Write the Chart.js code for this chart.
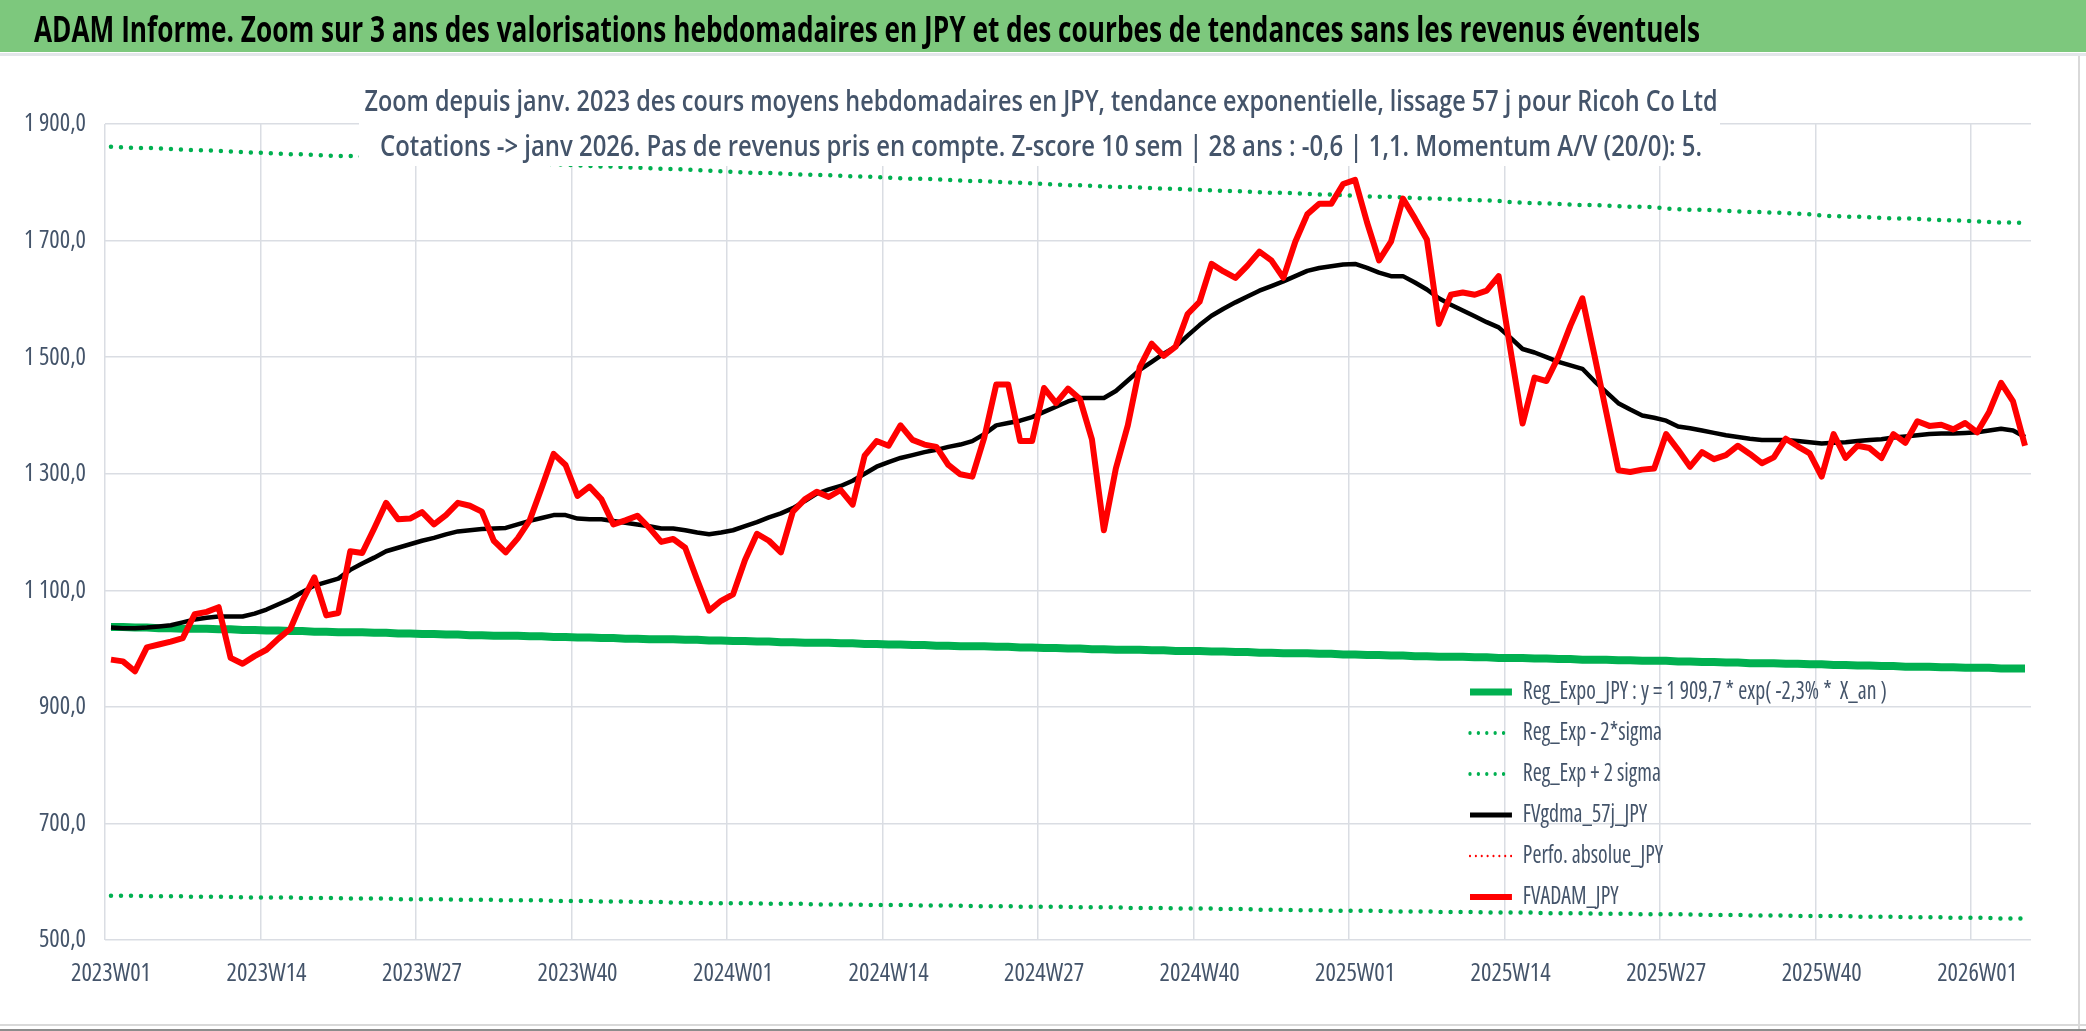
<!DOCTYPE html>
<html lang="fr">
<head>
<meta charset="utf-8">
<title>ADAM Informe - Ricoh Co Ltd (JPY)</title>
<script src="https://cdn.jsdelivr.net/npm/chart.js@4.4.1/dist/chart.umd.min.js"></script>
<style>
  html, body { margin: 0; padding: 0; background: #ffffff; overflow: hidden; }
  #myChart { display: block; }
</style>
</head>
<body>
<canvas id="myChart" width="2086" height="1031" style="width:2086px;height:1031px"></canvas>
<script>
// <block:donnees>

// semaines ISO, 2023W01 -> 2026W05
const annees = [2023, 2024, 2025];
const semaines = [];
for (const a of annees) {
  for (let w = 1; w <= 52; w++) semaines.push(a + "W" + String(w).padStart(2, "0"));
}
for (let w = 1; w <= 5; w++) semaines.push("2026W0" + w);

// étiquettes affichées sur l'axe x
const xTicks = ["2023W01", "2023W14", "2023W27", "2023W40", "2024W01", "2024W14", "2024W27",
  "2024W40", "2025W01", "2025W14", "2025W27", "2025W40", "2026W01"];

// axe y
const yMin = 500;
const yMax = 1900;
const yPas = 200;

// FVADAM_JPY (cours moyens hebdo)
const fvadam = [
  981, 978, 961, 1002, 1007, 1012, 1018, 1059, 1063, 1071, 984, 974, 987,
  998, 1017, 1034, 1082, 1122, 1057, 1061, 1167, 1164, 1206, 1250, 1222, 1223,
  1234, 1213, 1229, 1250, 1245, 1235, 1185, 1165, 1189, 1220, 1276, 1334, 1315,
  1262, 1278, 1256, 1213, 1220, 1228, 1207, 1183, 1188, 1173, 1118, 1065, 1082,
  1093, 1152, 1197, 1185, 1165, 1235, 1256, 1269, 1260, 1272, 1247, 1331, 1356,
  1348, 1383, 1358, 1350, 1346, 1315, 1299, 1295, 1362, 1453, 1453, 1356, 1356,
  1447, 1421, 1446, 1428, 1359, 1203, 1309, 1383, 1483, 1523, 1502, 1518, 1574,
  1595, 1660, 1647, 1636, 1657, 1681, 1666, 1636, 1698, 1745, 1763, 1763, 1797,
  1804, 1731, 1666, 1698, 1772, 1738, 1702, 1557, 1607, 1611, 1607, 1614, 1639,
  1511, 1386, 1465, 1459, 1501, 1554, 1601, 1504, 1405, 1306, 1303, 1307, 1309,
  1368, 1341, 1312, 1337, 1325, 1332, 1348, 1334, 1318, 1328, 1360, 1347, 1335,
  1295, 1368, 1327, 1348, 1344, 1327, 1368, 1353, 1390, 1382, 1384, 1376, 1387,
  1371, 1406, 1456, 1424, 1348
];

// FVgdma_57j_JPY (lissage)
const fvgdma = [
  1036, 1035, 1035, 1036, 1038, 1040, 1045, 1050, 1053, 1055, 1055, 1055, 1060,
  1067, 1076, 1085, 1097, 1108, 1114, 1120, 1135, 1146, 1156, 1167, 1173, 1179,
  1185, 1190, 1196, 1201, 1203, 1205, 1206, 1207, 1213, 1219, 1224, 1229, 1229,
  1223, 1222, 1222, 1219, 1216, 1213, 1210, 1206, 1206, 1203, 1199, 1196, 1199,
  1203, 1210, 1217, 1225, 1232, 1241, 1253, 1266, 1273, 1279, 1288, 1300, 1312,
  1320, 1327, 1332, 1337, 1341, 1346, 1350, 1356, 1368, 1383, 1387, 1391, 1397,
  1406, 1415, 1424, 1430, 1430, 1430, 1442, 1460, 1478, 1492, 1506, 1518, 1537,
  1555, 1571, 1583, 1594, 1604, 1614, 1622, 1630, 1639, 1648, 1653, 1656, 1659,
  1660, 1653, 1645, 1639, 1639, 1628, 1616, 1601, 1590, 1580, 1570, 1560, 1551,
  1533, 1514, 1508, 1500, 1492, 1486, 1480, 1459, 1440, 1421, 1410, 1400, 1396,
  1391, 1381, 1378, 1374, 1370, 1366, 1363, 1360, 1358, 1358, 1358, 1356, 1354,
  1352, 1353, 1354, 1356, 1358, 1359, 1362, 1364, 1366, 1368, 1369, 1369, 1370,
  1371, 1374, 1377, 1374, 1363
];

// Reg_Expo_JPY
const regExpo = [
  1037, 1037, 1036, 1036, 1035, 1035, 1034, 1034, 1034, 1033, 1033, 1032, 1032,
  1031, 1031, 1030, 1030, 1029, 1029, 1028, 1028, 1028, 1027, 1027, 1026, 1026,
  1025, 1025, 1024, 1024, 1023, 1023, 1022, 1022, 1022, 1021, 1021, 1020, 1020,
  1019, 1019, 1018, 1018, 1017, 1017, 1016, 1016, 1016, 1015, 1015, 1014, 1014,
  1013, 1013, 1012, 1012, 1011, 1011, 1010, 1010, 1010, 1009, 1009, 1008, 1008,
  1007, 1007, 1006, 1006, 1005, 1005, 1004, 1004, 1004, 1003, 1003, 1002, 1002,
  1001, 1001, 1000, 1000, 999, 999, 998, 998, 998, 997, 997, 996, 996,
  996, 995, 995, 994, 994, 993, 993, 992, 992, 992, 991, 991, 990,
  990, 989, 989, 988, 988, 987, 987, 986, 986, 986, 985, 985, 984,
  984, 984, 983, 983, 982, 982, 981, 981, 981, 980, 980, 979, 979,
  979, 978, 978, 977, 977, 976, 976, 975, 975, 975, 974, 974, 973,
  973, 972, 972, 971, 971, 970, 970, 969, 969, 969, 968, 968, 967,
  967, 967, 966, 966, 966
];

// Reg_Exp - 2*sigma
const regMoins2Sigma = [
  576, 576, 576, 575, 575, 575, 575, 574, 574, 574, 574, 573, 573,
  573, 573, 573, 572, 572, 572, 572, 571, 571, 571, 571, 570, 570,
  570, 570, 570, 569, 569, 569, 569, 568, 568, 568, 568, 567, 567,
  567, 567, 566, 566, 566, 565, 565, 565, 564, 564, 564, 563, 563,
  563, 563, 563, 562, 562, 562, 562, 561, 561, 561, 561, 560, 560,
  560, 560, 560, 559, 559, 559, 559, 558, 558, 558, 558, 557, 557,
  557, 557, 557, 556, 556, 556, 556, 555, 555, 555, 555, 554, 554,
  554, 554, 553, 553, 553, 552, 552, 552, 551, 551, 551, 550, 550,
  550, 550, 550, 549, 549, 549, 549, 548, 548, 548, 548, 547, 547,
  547, 547, 547, 546, 546, 546, 546, 545, 545, 545, 545, 544, 544,
  544, 544, 544, 543, 543, 543, 543, 542, 542, 542, 542, 541, 541,
  541, 541, 541, 540, 540, 540, 540, 539, 539, 539, 539, 538, 538,
  538, 538, 537, 537, 537
];

// Reg_Exp + 2 sigma
const regPlus2Sigma = [
  1861, 1860, 1859, 1859, 1858, 1857, 1856, 1855, 1855, 1854, 1853, 1852, 1851,
  1850, 1849, 1848, 1848, 1847, 1846, 1845, 1845, 1844, 1843, 1842, 1842, 1841,
  1840, 1839, 1838, 1838, 1837, 1836, 1835, 1834, 1834, 1833, 1832, 1831, 1830,
  1829, 1828, 1827, 1827, 1826, 1825, 1824, 1823, 1823, 1822, 1821, 1820, 1819,
  1818, 1817, 1816, 1816, 1815, 1814, 1813, 1813, 1812, 1811, 1810, 1810, 1809,
  1808, 1807, 1806, 1806, 1805, 1804, 1803, 1802, 1802, 1801, 1800, 1799, 1798,
  1797, 1796, 1795, 1795, 1794, 1793, 1792, 1792, 1791, 1790, 1789, 1789, 1788,
  1787, 1786, 1785, 1785, 1784, 1783, 1782, 1782, 1781, 1780, 1779, 1779, 1778,
  1777, 1776, 1775, 1775, 1774, 1773, 1772, 1772, 1771, 1770, 1769, 1769, 1768,
  1766, 1765, 1764, 1764, 1763, 1762, 1761, 1761, 1760, 1759, 1758, 1758, 1757,
  1755, 1754, 1753, 1753, 1752, 1751, 1750, 1749, 1749, 1748, 1747, 1746, 1745,
  1743, 1742, 1741, 1741, 1740, 1739, 1738, 1738, 1737, 1736, 1735, 1735, 1734,
  1733, 1732, 1731, 1731, 1730
];

// Perfo. absolue_JPY : rien de tracé dans la zone visible
const perfoAbsolue = [];

const titreBandeau = "ADAM Informe. Zoom sur 3 ans des valorisations hebdomadaires en JPY et des courbes de tendances sans les revenus éventuels";
const titreGraphique = [
  "Zoom depuis janv. 2023 des cours moyens hebdomadaires en JPY, tendance exponentielle, lissage 57 j pour Ricoh Co Ltd",
  "Cotations -> janv 2026. Pas de revenus pris en compte. Z-score 10 sem | 28 ans : -0,6 | 1,1. Momentum A/V (20/0): 5."
];
const libelleRegExpo = "Reg_Expo_JPY : y = 1 909,7 * exp( -2,3% *  X_an )";
// </block:donnees>

// police étroite si dispo (font-stretch), sinon normale
function choisirPolice() {
  const c = document.createElement("canvas").getContext("2d");
  const familles = ["'Noto Sans'", "'Open Sans'", "'DejaVu Sans'"];
  const essai = "2023W01 Reg_Expo_JPY";
  for (const f of familles) {
    c.font = "22px " + f;
    const w1 = c.measureText(essai).width;
    c.font = "condensed 22px " + f;
    const w2 = c.measureText(essai).width;
    if (w2 < w1 * 0.93) return { family: f, weight: "condensed" };
  }
  return { family: "'Open Sans'", weight: "normal" };
}
const police = choisirPolice();
const tailleTexte = 26;

// facteur de compression horizontale pour retrouver la largeur des textes de l'original
function facteur(txt, largeur) {
  const c = document.createElement("canvas").getContext("2d");
  c.font = police.weight + " " + tailleTexte + "px " + police.family;
  const k = largeur / c.measureText(txt).width;
  return Math.max(0.6, Math.min(1.1, k));
}
const kLegende = facteur(libelleRegExpo, 364);
const kX = facteur("2023W01", 80);
const kY = facteur("1 900,0", 62);

const couleurTexte = "#44546A";
const couleurGrille = "#DADDE3";
const vert = "#00B050";

function formatFr(v) {
  const s = v.toFixed(1).replace(".", ",");
  return v >= 1000 ? s.slice(0, -5) + " " + s.slice(-5) : s;
}

// texte "compressé" en largeur (police Calibri étirée dans l'original)
function texteSerre(ctx, txt, x, y, largeur, font, couleur, align) {
  ctx.save();
  ctx.font = font;
  const w = ctx.measureText(txt).width;
  ctx.translate(x, y);
  ctx.scale(largeur / w, 1);
  ctx.textAlign = align;
  ctx.textBaseline = "alphabetic";
  ctx.fillStyle = couleur;
  ctx.fillText(txt, 0, 0);
  ctx.restore();
}

// remplace le dessin des étiquettes d'un axe : même position, texte resserré
function etiquettesSerrees(k) {
  return function () {
    const ctx = this.ctx;
    for (const item of this.getLabelItems()) {
      const o = item.options;
      ctx.save();
      ctx.translate(o.translation[0], o.translation[1]);
      ctx.scale(k, 1);
      ctx.font = item.font.string;
      ctx.fillStyle = o.color;
      ctx.textAlign = o.textAlign;
      ctx.textBaseline = o.textBaseline;
      ctx.fillText(item.label, 0, item.textOffset);
      ctx.restore();
    }
  };
}

const decor = {
  id: "decor",
  beforeDraw(chart) {
    const ctx = chart.ctx;
    const W = chart.width, H = chart.height;
    ctx.save();
    ctx.fillStyle = "#ffffff";
    ctx.fillRect(0, 0, W, H);
    ctx.fillStyle = "#7DC87D";
    ctx.fillRect(0, 0, W, 52);
    ctx.fillStyle = "#E3E6EA";
    ctx.fillRect(0, 53, W, 3);
    ctx.fillStyle = "#D9D9D9";
    ctx.fillRect(2078, 56, 2, H - 56);
    ctx.fillRect(0, 1024, W, 2);
    ctx.fillStyle = "#8C8C8C";
    ctx.fillRect(0, 1029, W, 2);
    ctx.restore();
    texteSerre(ctx, titreBandeau, 34, 42, 1666, "bold 36px 'Open Sans'", "#000000", "left");
  },
  afterDatasetsDraw(chart) {
    const ctx = chart.ctx;
    ctx.save();
    ctx.fillStyle = "#ffffff";
    ctx.fillRect(359, 80, 1361, 86);
    ctx.restore();
    texteSerre(ctx, titreGraphique[0], 1041, 111, 1353, "600 29px 'Open Sans'", couleurTexte, "center");
    texteSerre(ctx, titreGraphique[1], 1041, 156, 1322, "600 29px 'Open Sans'", couleurTexte, "center");
  },
};

// légende dans la zone de tracé (bas droite) et textes resserrés
const miseEnPlace = {
  id: "miseEnPlace",
  afterLayout(chart) {
    const lg = chart.legend;
    if (lg) {
      lg.left = 1470 - (41 - tailleTexte) * kLegende;
      lg.right = 2031;
      lg.bottom = 925;
      if (!lg._serre) {
        const dessin = lg.draw;
        lg.draw = function (...args) {
          const c = this.ctx;
          c.save();
          c.translate(this.left, 0);
          c.scale(kLegende, 1);
          c.translate(-this.left, 0);
          dessin.apply(this, args);
          c.restore();
        };
        lg._serre = true;
      }
    }
    chart.scales.x.drawLabels = etiquettesSerrees(kX);
    chart.scales.y.drawLabels = etiquettesSerrees(kY);
  },
};

const data = {
  labels: semaines,
  datasets: [
    {
      label: libelleRegExpo,
      data: regExpo,
      borderColor: vert,
      borderWidth: 8,
      legendWidth: 7,
      order: 2,
    },
    {
      label: "Reg_Exp - 2*sigma",
      data: regMoins2Sigma,
      borderColor: vert,
      borderWidth: 4.5,
      legendWidth: 4,
      borderDash: [0, 10],
      borderCapStyle: "round",
      order: 3,
    },
    {
      label: "Reg_Exp + 2 sigma",
      data: regPlus2Sigma,
      borderColor: vert,
      borderWidth: 4.5,
      legendWidth: 4,
      borderDash: [0, 10],
      borderCapStyle: "round",
      order: 3,
    },
    {
      label: "FVgdma_57j_JPY",
      data: fvgdma,
      borderColor: "#000000",
      borderWidth: 4.5,
      legendWidth: 5,
      order: 1,
    },
    {
      label: "Perfo. absolue_JPY",
      data: perfoAbsolue,
      borderColor: "#FF0000",
      borderWidth: 2.5,
      legendWidth: 2.5,
      borderDash: [0, 7],
      borderCapStyle: "round",
      order: 4,
    },
    {
      label: "FVADAM_JPY",
      data: fvadam,
      borderColor: "#FF0000",
      borderWidth: 6,
      legendWidth: 6,
      order: 0,
    },
  ],
};

const config = {
  type: "line",
  data: data,
  options: {
    responsive: false,
    animation: false,
    layout: { padding: { top: 124, right: 55, bottom: 0, left: 0 } },
    elements: {
      point: { radius: 0 },
      line: { tension: 0, borderJoinStyle: "round" },
    },
    plugins: {
      title: { display: false },
      tooltip: { enabled: false },
      legend: {
        position: "chartArea",
        align: "end",
        labels: {
          usePointStyle: true,
          pointStyle: "line",
          pointStyleWidth: Math.round(42 / kLegende),
          padding: 41 - tailleTexte,
          color: couleurTexte,
          font: { family: police.family, weight: police.weight, size: tailleTexte },
          sort: (a, b) => a.datasetIndex - b.datasetIndex,
          generateLabels: (chart) =>
            Chart.defaults.plugins.legend.labels.generateLabels(chart).map((item) => {
              const ds = chart.data.datasets[item.datasetIndex];
              item.lineDash = ds.borderDash || [];
              item.lineCap = ds.borderCapStyle || "butt";
              item.lineWidth = ds.legendWidth;
              return item;
            }),
        },
      },
    },
    scales: {
      x: {
        offset: true,
        border: { display: false },
        grid: {
          offset: true,
          drawTicks: false,
          lineWidth: 1.5,
          color: (c) => (c.index % 13 === 0 ? couleurGrille : "rgba(0,0,0,0)"),
        },
        ticks: {
          autoSkip: false,
          maxRotation: 0,
          padding: 18,
          color: couleurTexte,
          font: { family: police.family, weight: police.weight, size: tailleTexte },
          callback: function (v) {
            const l = this.getLabelForValue(v);
            return xTicks.includes(l) ? l : "";
          },
        },
        afterFit: (s) => { s.height = 91; },
      },
      y: {
        min: yMin,
        max: yMax,
        border: { display: false },
        grid: { color: couleurGrille, lineWidth: 1.5, drawTicks: false },
        ticks: {
          stepSize: yPas,
          padding: 19,
          color: couleurTexte,
          font: { family: police.family, weight: police.weight, size: tailleTexte },
          callback: (v) => formatFr(v),
        },
        afterFit: (s) => { s.width = 105; },
      },
    },
  },
  plugins: [decor, miseEnPlace],
};

/* création du graphique */
const context = document.getElementById("myChart").getContext("2d");
const chart = new Chart(context, config);
</script>
</body>
</html>
